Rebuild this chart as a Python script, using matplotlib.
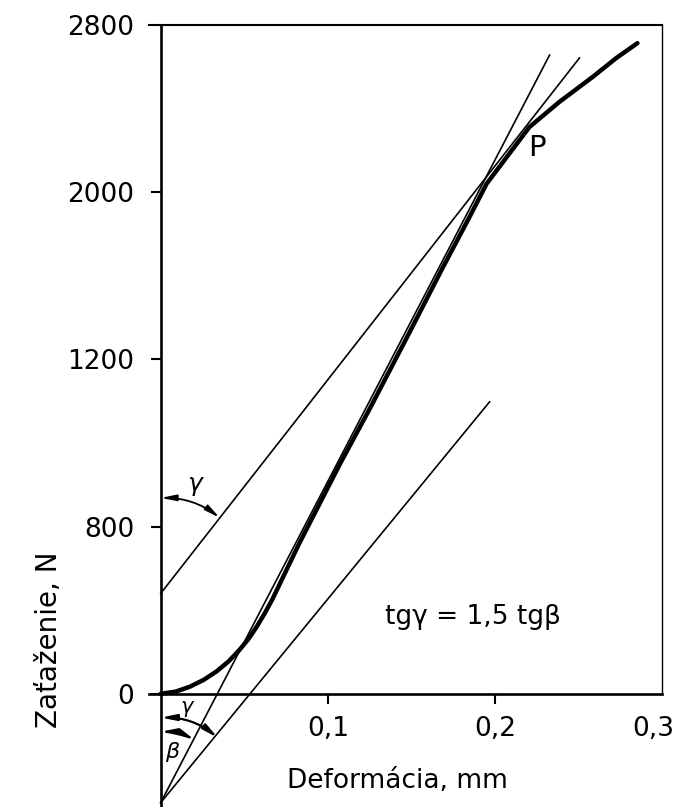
import matplotlib.pyplot as plt
from matplotlib.transforms import ScaledTranslation

# data
# main load-deformation curve (x in mm, y in tick-axis units)
curve_x = [0, 0.009, 0.0173, 0.0257, 0.0335, 0.0407, 0.0472, 0.0526, 0.0574, 0.0622,
           0.0670, 0.0831, 0.1071, 0.125, 0.1489, 0.1687, 0.1848, 0.195, 0.2087,
           0.2207, 0.2386, 0.2584, 0.2727, 0.2853]
curve_y = [0, 9, 29, 58, 94, 136, 184, 230, 280, 336,
           398, 632, 960, 1192, 1513, 1783, 1996, 2135, 2262,
           2373, 2478, 2582, 2662, 2724]

# auxiliary straight lines (start and end point)
line1_x = [0, 0.2506]
line1_y = [420, 2662]
line2_x = [0, 0.2327]
line2_y = [-456, 2674]
line3_x = [0, 0.1968]
line3_y = [-456, 1222]

# axis ticks and labels as printed
xtick_pos = [0.1, 0.2, 0.3]
xtick_lab = ['0,1', '0,2', '0,3']
ytick_pos = [0, 700, 1400, 2100, 2800]
ytick_lab = ['0', '800', '1200', '2000', '2800']

plt.rcParams['font.family'] = ['DejaVu Sans']

fig = plt.figure(figsize=(6.8, 8.07), dpi=100)
ax = fig.add_axes([149/680, 1/807, (662-149)/680, (806-25)/807])

ax.set_xlim(-0.007, 0.3)
ax.set_ylim(-470, 2800)

# curve and lines
ax.plot(curve_x, curve_y, color='black', lw=3.2, solid_capstyle='round', solid_joinstyle='round')
ax.plot(line1_x, line1_y, color='black', lw=1.2)
ax.plot(line2_x, line2_y, color='black', lw=1.2)
ax.plot(line3_x, line3_y, color='black', lw=1.2)

# spines
ax.spines['left'].set_position(('data', 0))
ax.spines['left'].set_linewidth(1.9)
ax.spines['bottom'].set_position(('data', 0))
ax.spines['bottom'].set_linewidth(1.9)
ax.spines['top'].set_linewidth(1.5)
ax.spines['right'].set_linewidth(1.0)
ax.spines['right'].set_bounds(0, 2800)

ax.set_xticks(xtick_pos)
ax.set_xticklabels(xtick_lab)
ax.set_yticks(ytick_pos)
ax.set_yticklabels(ytick_lab)
ax.tick_params(axis='both', direction='out', length=7, width=1.5, labelsize=19)
ax.tick_params(axis='x', pad=9)
ax.tick_params(axis='y', pad=12)
ax.xaxis.get_major_ticks()[-1].tick1line.set_visible(False)
ax.yaxis.get_major_ticks()[-1].tick1line.set_visible(False)
# pull the last x label (0,3) inside the picture
lab = ax.get_xticklabels()[-1]
lab.set_transform(lab.get_transform() + ScaledTranslation(-9/100, 0, fig.dpi_scale_trans))

ax.set_xlabel('Deformácia, mm', fontsize=19)
ax.xaxis.set_label_coords(397/680, 1 - 768/807, transform=fig.transFigure)
ax.set_ylabel('Zaťaženie, N', fontsize=20)
ax.yaxis.set_label_coords(63/680, 1 - 640/807, transform=fig.transFigure)

# annotations
ax.text(0.1866, 322, 'tgγ = 1,5 tgβ', fontsize=19, ha='center', va='center')
ax.text(0.2249, 2285, 'P', fontsize=21, ha='center', va='center')
ax.text(0.0203, 880, 'γ', fontsize=18, ha='center', va='center', style='italic')
ax.text(0.0156, -54, 'γ', fontsize=15, ha='center', va='center', style='italic')
ax.text(0.0066, -243, 'β', fontsize=16, ha='center', va='center', style='italic')

# angle arcs with arrows
arrow = '<|-|>,head_length=0.9,head_width=0.18'
ax.annotate('', xy=(0.0353, 737), xytext=(0, 820),
            arrowprops=dict(arrowstyle=arrow, connectionstyle='arc3,rad=-0.17',
                            lw=1.3, color='black', shrinkA=0, shrinkB=0))
ax.annotate('', xy=(0.0341, -184), xytext=(0, -100),
            arrowprops=dict(arrowstyle=arrow, connectionstyle='arc3,rad=-0.18',
                            lw=1.6, color='black', shrinkA=0, shrinkB=0))
ax.annotate('', xy=(0.0203, -193), xytext=(0, -159),
            arrowprops=dict(arrowstyle=arrow, connectionstyle='arc3,rad=-0.12',
                            lw=1.6, color='black', shrinkA=0, shrinkB=0))

fig.savefig('out.png', dpi=100)
